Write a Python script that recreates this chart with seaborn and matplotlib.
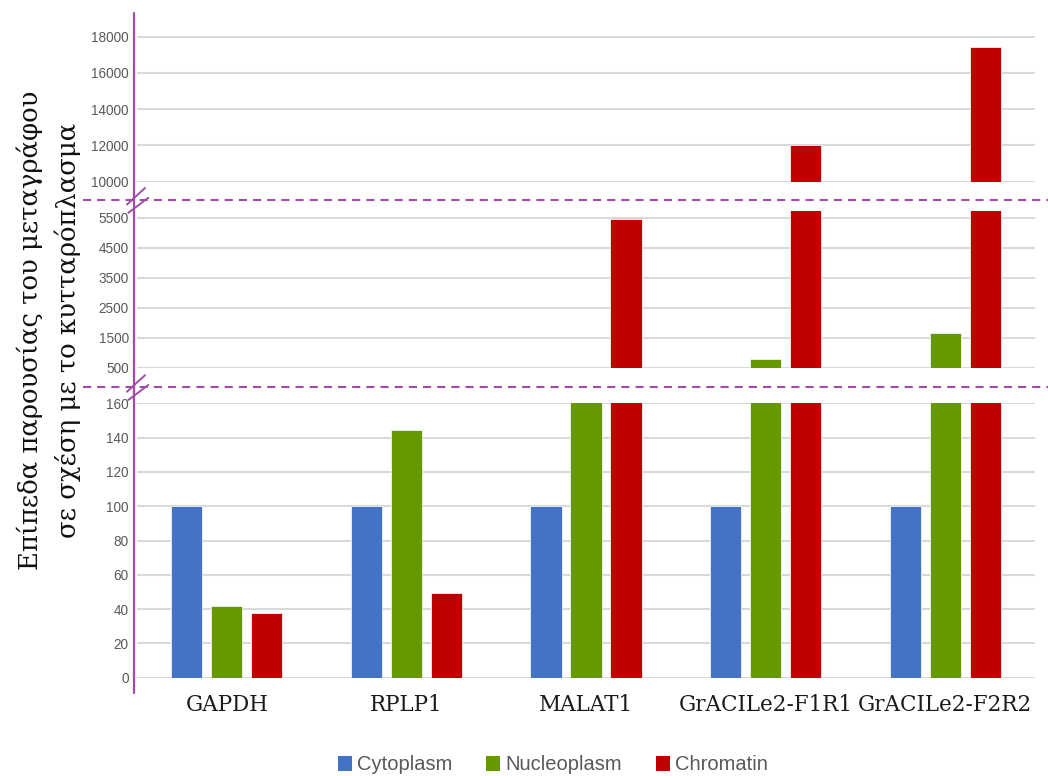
import numpy as np
import pandas as pd
import matplotlib
matplotlib.use("Agg")
import matplotlib.pyplot as plt
from matplotlib.lines import Line2D
from matplotlib.patches import Patch
import seaborn as sns

# Expression relative to cytoplasm, per transcript and compartment
genes = ["GAPDH", "RPLP1", "MALAT1", "GrACILe2-F1R1", "GrACILe2-F2R2"]
compartments = ["Cytoplasm", "Nucleoplasm", "Chromatin"]
cytoplasm = [100, 100, 100, 100, 100]
nucleoplasm = [42, 144.5, 320, 800, 1650]
chromatin = [38, 49.5, 5450, 12050, 17400]

colors = {"Cytoplasm": "#4472C4", "Nucleoplasm": "#669900", "Chromatin": "#C00000"}
purple = "#A24BA8"
grid_color = "#D9D9D9"
tick_color = "#595959"

df = pd.DataFrame({
    "gene": genes * 3,
    "compartment": [c for c in compartments for _ in genes],
    "value": cytoplasm + nucleoplasm + chromatin,
})

sns.set_style("white")
plt.rcParams["font.family"] = ["Liberation Sans", "DejaVu Sans"]

W, H = 1048, 776
fig = plt.figure(figsize=(W / 100, H / 100), dpi=100)


def fx(px):
    return px / W


def fy(py):
    return 1 - py / H


left, right = 137, 1035
# (top pixel, bottom pixel, ylim, ticks)
panels = [
    (13, 181.7, (10000, 19300), np.arange(10000, 18001, 2000)),
    (211, 367.5, (500, 5730), np.arange(500, 5501, 1000)),
    (403.3, 677.7, (0, 160), np.arange(0, 161, 20)),
]

axes = []
for i, (top, bottom, ylim, ticks) in enumerate(panels):
    ax = fig.add_axes([fx(left), fy(bottom), fx(right - left), (bottom - top) / H])
    sns.barplot(data=df, x="gene", y="value", hue="compartment", order=genes,
                hue_order=compartments, palette=colors, saturation=1,
                width=0.668, gap=0.22, edgecolor="#F2F2F2", linewidth=0.6,
                legend=False, ax=ax, errorbar=None)
    ax.set_ylim(*ylim)
    ax.set_yticks(ticks)
    ax.set_yticklabels([str(t) for t in ticks], color=tick_color, fontsize=9.8)
    ax.yaxis.grid(True, color=grid_color, lw=1.5)
    ax.set_axisbelow(True)
    for s in ax.spines.values():
        s.set_visible(False)
    ax.tick_params(axis="y", length=0, pad=6)
    ax.tick_params(axis="x", length=0)
    ax.set_xlabel("")
    ax.set_ylabel("")
    ax.patch.set_alpha(0)
    if i < 2:
        ax.set_xticklabels([])
    else:
        ax.set_xticklabels(genes, family="DejaVu Serif", fontsize=15.5,
                           color="#1a1a1a")
        ax.tick_params(axis="x", pad=12)
    axes.append(ax)

# continuous left axis line
fig.add_artist(Line2D([fx(134), fx(134)], [fy(13), fy(693)], color=purple,
                      lw=1.6, transform=fig.transFigure))

# break separators with double slashes
for yb in (199.5, 386.7):
    fig.add_artist(Line2D([fx(83), fx(1048)], [fy(yb), fy(yb)], color=purple,
                          lw=1.5, dashes=(3.9, 2.9), transform=fig.transFigure))
    for (x0, d0, x1, d1) in [(127, 5, 145, -11.5), (128.3, 13.3, 148.3, -1.7)]:
        fig.add_artist(Line2D([fx(x0), fx(x1)], [fy(yb + d0), fy(yb + d1)],
                              color=purple, lw=1.4, transform=fig.transFigure))

fig.text(fx(49), fy(330),
         "Επίπεδα παρουσίας του μεταγράφου\nσε σχέση με το κυτταρόπλασμα",
         rotation=90, ha="center", va="center", multialignment="center",
         family="DejaVu Serif", fontsize=18.6, linespacing=1.55,
         color="#111111")

handles = [Patch(facecolor=colors[c], edgecolor="none", label=c)
           for c in compartments]
leg = fig.legend(handles=handles, loc="center", ncol=3,
                 bbox_to_anchor=(fx(553), fy(765)), frameon=False,
                 fontsize=14.5, handlelength=0.7, handleheight=0.7,
                 handletextpad=0.25, columnspacing=1.7)
for t in leg.get_texts():
    t.set_color(tick_color)

fig.savefig("out.png", dpi=100)
